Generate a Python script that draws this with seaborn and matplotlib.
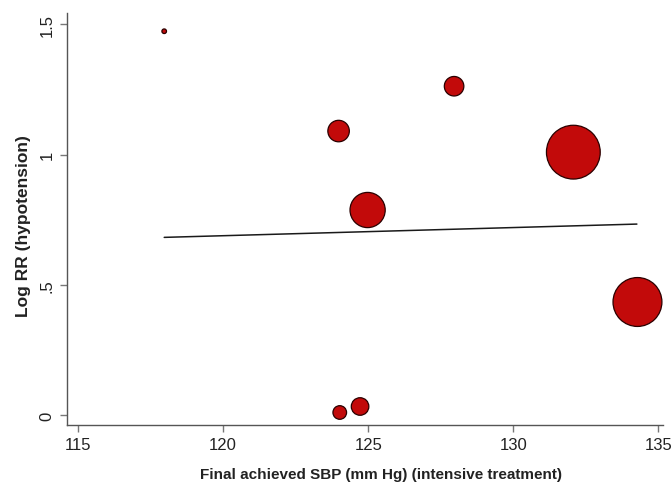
import numpy as np
import pandas as pd
import matplotlib
matplotlib.use("Agg")
import matplotlib.pyplot as plt
import seaborn as sns

# Data
sbp = [117.97, 123.98, 127.96, 132.07, 124.98, 134.28, 124.02, 124.72]
log_rr = [1.473, 1.09, 1.262, 1.009, 0.787, 0.434, 0.01, 0.033]
weight = [6.0, 121, 100, 756, 324, 625, 49, 81]

fit_x = [117.97, 134.26]
fit_y = [0.682, 0.733]

xticks = [115, 120, 125, 130, 135]
yticks = [0, 0.5, 1, 1.5]
ytick_labels = ["0", ".5", "1", "1.5"]

df = pd.DataFrame({"sbp": sbp, "log_rr": log_rr, "weight": weight})
fit = pd.DataFrame({"x": fit_x, "y": fit_y})

sns.set_style("white")
plt.rcParams["font.family"] = ["Liberation Sans", "DejaVu Sans"]

W, H = 671, 485
L, R, T, B = 67, 663, 14, 426
fig = plt.figure(figsize=(W / 100, H / 100), dpi=100)
ax = fig.add_axes([L / W, 1 - B / H, (R - L) / W, (B - T) / H])

sns.lineplot(data=fit, x="x", y="y", ax=ax, color="#1a1a1a", linewidth=1.1,
             estimator=None, sort=False, zorder=1)
sns.scatterplot(data=df, x="sbp", y="log_rr", size="weight",
                sizes=(11, 1500), size_norm=(min(weight), max(weight)),
                color="#c20a0a", edgecolor="#2a0000", linewidth=0.9,
                legend=False, ax=ax, zorder=2, alpha=1)

ax.set_xlim(114.62, 135.16)
ax.set_ylim(-0.038, 1.543)
ax.set_xticks(xticks)
ax.set_xticklabels([str(t) for t in xticks])
ax.set_yticks(yticks)
ax.set_yticklabels(ytick_labels, rotation=90, va="center")

for s in ["top", "right"]:
    ax.spines[s].set_visible(False)
for s in ["left", "bottom"]:
    ax.spines[s].set_color("#555555")
    ax.spines[s].set_linewidth(1.0)

ax.tick_params(axis="both", direction="out", length=5, width=1.0,
               color="#777777", labelsize=12, labelcolor="#222222", pad=4)
ax.tick_params(axis="x", bottom=True)
ax.tick_params(axis="y", left=True)

ax.set_xlabel("Final achieved SBP (mm Hg) (intensive treatment)", fontsize=11,
              fontweight="bold", color="#222222")
ax.set_ylabel("Log RR (hypotension)", fontsize=12.5, fontweight="bold",
              color="#222222")
ax.xaxis.set_label_coords((381 - L) / (R - L), (B - 468) / (B - T))
ax.yaxis.set_label_coords((31 - L) / (R - L), (B - 226) / (B - T))

fig.savefig("out.png", dpi=100)
